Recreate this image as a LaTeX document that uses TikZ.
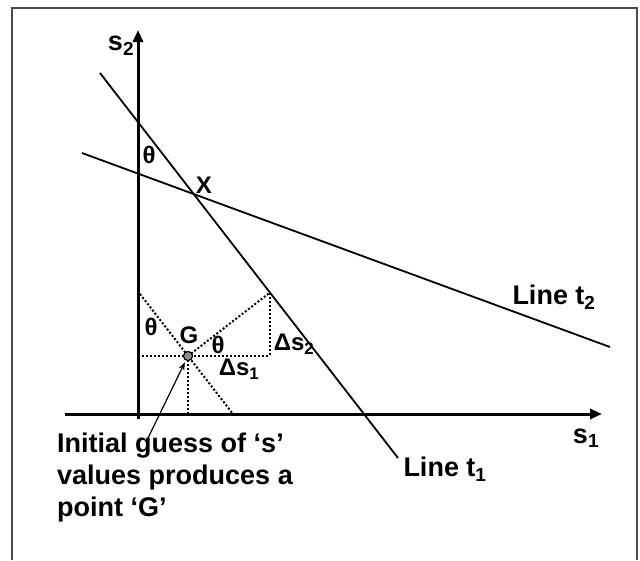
\documentclass[tikz,border=0pt]{standalone}
\usepackage{fontspec}
\setmainfont{Liberation Sans}
\usetikzlibrary{calc,arrows.meta}

\begin{document}
\begin{tikzpicture}[
    x=1pt,y=-1pt,
    axis/.style={line width=3pt, -{Triangle[length=12pt,width=10pt]}},
    tline/.style={line width=1.8pt},
    guide/.style={line width=2pt, dotted},
    lbl/.style={font=\fontsize{24}{28}\selectfont\bfseries, inner sep=0pt},
    big/.style={font=\fontsize{27}{32}\selectfont\bfseries, inner sep=0pt},
    gpoint/.style={circle, draw=black, fill=black!45, line width=1pt,
      minimum size=9pt, inner sep=0pt},
    pointer/.style={line width=1.2pt, -{Stealth[length=8pt,width=6pt]},
      shorten >=2pt}
  ]
    \useasboundingbox (0,0) rectangle (640,560);
    \draw[line width=2pt, draw=black!70] (12,560) -- (12,8) -- (637,8) -- (637,560);

    % axes
    \coordinate (O) at (138,414);
    \coordinate (ybot) at (138,419);
    \coordinate (ytop) at (138,30);
    \coordinate (xleft) at (65,414);
    \coordinate (xright) at (602,414);
    \draw[axis] (ybot) -- (ytop);
    \draw[axis] (xleft) -- (xright);

    % the two lines
    \coordinate (t1a) at (100,73);
    \coordinate (t1b) at (398,458);
    \coordinate (t2a) at (82,153);
    \coordinate (t2b) at (610,347);
    \draw[tline] (t1a) -- (t1b);
    \draw[tline] (t2a) -- (t2b);

    % construction round G
    \node[gpoint] (gdot) at (188,356) {};
    \coordinate (foot) at ($(t1a)!(gdot.center)!(t1b)$);
    \coordinate (pa) at ($(gdot.center)-(48,62)$);
    \coordinate (pb) at ($(gdot.center)+(45,58)$);
    \draw[guide] (O |- gdot.center) -- (foot |- gdot.center);
    \draw[guide] (gdot.center) -- (gdot.center |- O);
    \draw[guide] (foot) -- (foot |- gdot.center);
    \draw[guide] (gdot.center) -- (foot);
    \draw[guide] (pa) -- (pb);
    \node[gpoint] at (gdot.center) {};

    % labels
    \node[big] (s2lab) at (121,46) {s\textsubscript{2}};
    \node[big] (s1lab) at (586,438) {s\textsubscript{1}};
    \node[lbl] (xlab) at (204,185) {X};
    \node[lbl] (th1) at (149,155) {θ};
    \node[lbl] (th2) at (151,327) {θ};
    \node[lbl] (th3) at (218,345) {θ};
    \node[lbl] (glab) at (189,335) {G};
    \node[lbl] (ds2) at (294,344) {Δs\textsubscript{2}};
    \node[lbl] (ds1) at (239,369) {Δs\textsubscript{1}};
    \node[big] (t2lab) at (554,297) {Line t\textsubscript{2}};
    \node[big] (t1lab) at (445,469) {Line t\textsubscript{1}};

    \node[big, anchor=north west, align=left] (note) at (57,433)
      {Initial guess of ‘s’\\values produces a\\point ‘G’};
    \coordinate (tail) at (148,438);
    \draw[pointer] (tail) -- (gdot);
  \end{tikzpicture}
\end{document}
